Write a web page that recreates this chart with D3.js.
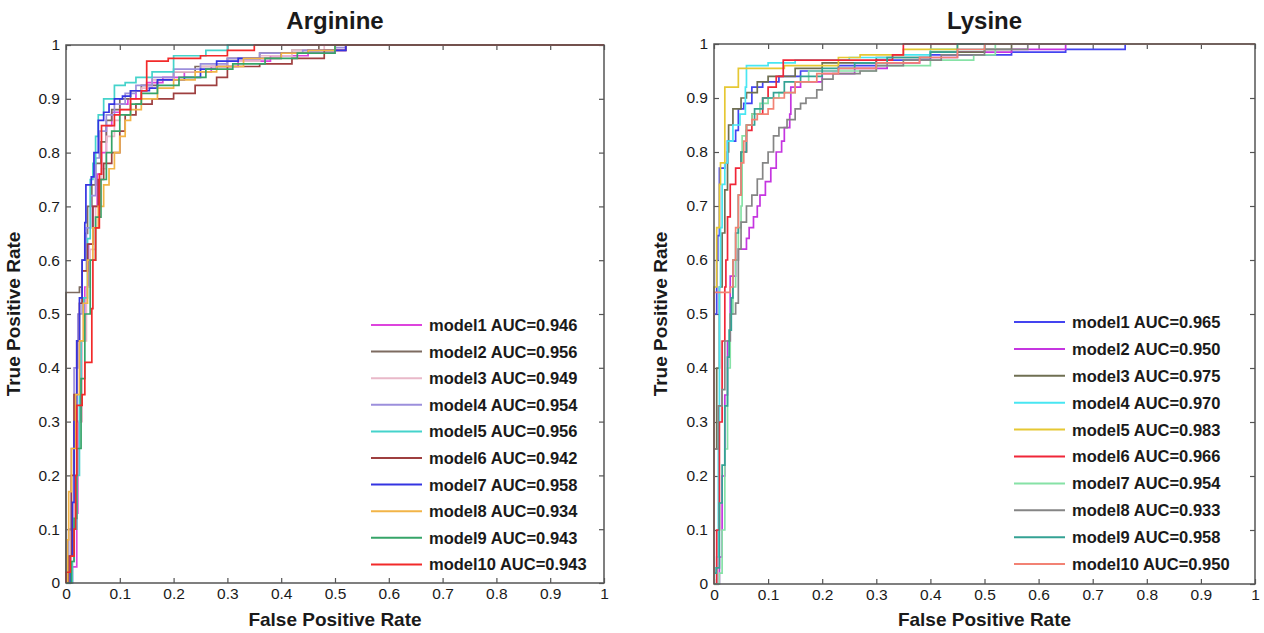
<!DOCTYPE html>
<html lang="en">
<head>
    <meta charset="UTF-8">
    <title>ROC curves</title>
    <script src="https://d3js.org/d3.v7.min.js"></script>
    <style>
        body { margin: 0; background: #fff; }
        text { font-family: "Liberation Sans", Arial, sans-serif; fill: #1a1a1a; }
        .title { font-size: 24px; font-weight: bold; text-anchor: middle; }
        .label { font-size: 19px; font-weight: bold; text-anchor: middle; }
        .legend text { font-size: 16.5px; font-weight: bold; }
        .roc { fill: none; stroke-width: 1.7; }
        .box { fill: none; stroke: #555; stroke-width: 1.5; }
    </style>
</head>
<body>
<script>
    const width = 1264;
    const height = 633;

    const ticks = [0, 0.1, 0.2, 0.3, 0.4, 0.5, 0.6, 0.7, 0.8, 0.9, 1];
    const modelNames = ["model1", "model2", "model3", "model4", "model5",
                        "model6", "model7", "model8", "model9", "model10"];

    // Arginine
    const arginineAUC = [0.946, 0.956, 0.949, 0.954, 0.956, 0.942, 0.958, 0.934, 0.943, 0.943];
    const arginineColors = ["#dd44dd", "#7d6b60", "#e9b9c9", "#9c8fdc", "#45d3cb",
                            "#9e3f3f", "#3434e2", "#f2b447", "#36a468", "#f22a2a"];
    const arginineROC = [
        [[0,0],[0.012,0.03],[0.02,0.13],[0.022,0.3],[0.028,0.45],[0.035,0.55],[0.042,0.63],[0.05,0.7],[0.058,0.76],[0.066,0.8],[0.075,0.85],[0.085,0.875],[0.1,0.89],[0.115,0.9],[0.13,0.915],[0.15,0.93],[0.18,0.94],[0.22,0.95],[0.27,0.96],[0.32,0.97],[0.38,0.98],[0.45,0.985],[0.5,0.99],[0.52,1],[1,1]],
        [[0,0],[0,0.38],[0,0.54],[0.025,0.55],[0.03,0.6],[0.035,0.65],[0.04,0.7],[0.048,0.74],[0.055,0.78],[0.065,0.82],[0.075,0.86],[0.085,0.88],[0.1,0.9],[0.12,0.915],[0.14,0.925],[0.17,0.935],[0.2,0.95],[0.24,0.96],[0.3,0.975],[0.36,0.985],[0.42,0.99],[0.47,1],[1,1]],
        [[0,0],[0.01,0.05],[0.015,0.15],[0.02,0.3],[0.03,0.45],[0.038,0.55],[0.045,0.62],[0.055,0.7],[0.065,0.77],[0.075,0.83],[0.09,0.86],[0.1,0.88],[0.12,0.9],[0.14,0.92],[0.16,0.935],[0.2,0.95],[0.25,0.96],[0.3,0.97],[0.36,0.98],[0.42,0.99],[0.48,1],[1,1]],
        [[0,0],[0.005,0.1],[0.01,0.25],[0.015,0.4],[0.022,0.5],[0.03,0.58],[0.038,0.66],[0.046,0.72],[0.055,0.79],[0.062,0.84],[0.075,0.87],[0.09,0.89],[0.11,0.91],[0.13,0.925],[0.16,0.94],[0.2,0.955],[0.25,0.965],[0.3,0.975],[0.36,0.985],[0.44,0.99],[0.5,0.995],[0.52,1],[1,1]],
        [[0,0],[0.012,0.04],[0.015,0.1],[0.02,0.2],[0.025,0.35],[0.028,0.45],[0.033,0.53],[0.04,0.64],[0.045,0.75],[0.05,0.78],[0.055,0.83],[0.06,0.87],[0.07,0.9],[0.09,0.925],[0.11,0.93],[0.13,0.94],[0.16,0.95],[0.2,0.98],[0.26,0.99],[0.3,1],[1,1]],
        [[0,0],[0.005,0.05],[0.01,0.2],[0.015,0.35],[0.02,0.45],[0.025,0.52],[0.03,0.58],[0.04,0.63],[0.05,0.7],[0.06,0.75],[0.07,0.78],[0.085,0.8],[0.1,0.84],[0.11,0.87],[0.13,0.89],[0.16,0.9],[0.2,0.91],[0.24,0.925],[0.28,0.94],[0.3,0.96],[0.36,0.965],[0.42,0.975],[0.48,0.99],[0.52,1],[1,1]],
        [[0,0],[0.008,0.05],[0.012,0.15],[0.015,0.3],[0.02,0.45],[0.025,0.53],[0.03,0.6],[0.035,0.67],[0.037,0.74],[0.047,0.755],[0.052,0.8],[0.06,0.86],[0.07,0.875],[0.08,0.89],[0.09,0.9],[0.105,0.905],[0.12,0.915],[0.155,0.92],[0.17,0.935],[0.22,0.94],[0.25,0.955],[0.28,0.97],[0.32,0.975],[0.4,0.985],[0.45,0.99],[0.52,1],[1,1]],
        [[0,0],[0.003,0.08],[0.005,0.17],[0.01,0.25],[0.018,0.35],[0.025,0.45],[0.032,0.52],[0.04,0.6],[0.05,0.66],[0.06,0.7],[0.07,0.74],[0.08,0.77],[0.09,0.8],[0.1,0.83],[0.11,0.86],[0.12,0.88],[0.14,0.9],[0.17,0.92],[0.2,0.935],[0.24,0.95],[0.28,0.96],[0.33,0.975],[0.4,0.985],[0.45,0.99],[0.5,1],[1,1]],
        [[0,0],[0.01,0.04],[0.015,0.12],[0.02,0.25],[0.028,0.38],[0.035,0.5],[0.045,0.6],[0.055,0.68],[0.065,0.75],[0.075,0.8],[0.085,0.84],[0.1,0.87],[0.12,0.89],[0.14,0.91],[0.17,0.925],[0.21,0.94],[0.26,0.955],[0.31,0.965],[0.37,0.975],[0.43,0.985],[0.5,1],[1,1]],
        [[0,0],[0,0.02],[0.008,0.05],[0.015,0.1],[0.018,0.2],[0.02,0.33],[0.03,0.35],[0.035,0.41],[0.048,0.51],[0.05,0.6],[0.055,0.66],[0.062,0.76],[0.066,0.85],[0.09,0.87],[0.1,0.88],[0.12,0.9],[0.14,0.915],[0.15,0.97],[0.19,0.975],[0.25,0.98],[0.3,0.99],[0.35,1],[1,1]]
    ];

    // Lysine
    const lysineAUC = [0.965, 0.950, 0.975, 0.970, 0.983, 0.966, 0.954, 0.933, 0.958, 0.950];
    const lysineColors = ["#4444f0", "#c535e0", "#6f6f52", "#48e6f2", "#e6c833",
                          "#f02638", "#86e2a6", "#858585", "#34a294", "#f28274"];
    const lysineROC = [
        [[0,0],[0,0.5],[0.005,0.6],[0.007,0.645],[0.01,0.77],[0.02,0.78],[0.025,0.82],[0.04,0.84],[0.045,0.88],[0.055,0.89],[0.07,0.92],[0.09,0.93],[0.12,0.94],[0.16,0.95],[0.23,0.96],[0.3,0.97],[0.4,0.98],[0.55,0.985],[0.65,0.99],[0.76,1],[1,1]],
        [[0,0],[0.01,0.05],[0.015,0.2],[0.02,0.35],[0.025,0.45],[0.03,0.49],[0.03,0.57],[0.04,0.6],[0.045,0.62],[0.06,0.64],[0.065,0.66],[0.073,0.68],[0.08,0.7],[0.085,0.72],[0.095,0.745],[0.105,0.77],[0.115,0.8],[0.125,0.82],[0.13,0.845],[0.14,0.87],[0.142,0.92],[0.16,0.93],[0.2,0.945],[0.26,0.955],[0.32,0.965],[0.38,0.975],[0.45,0.985],[0.55,0.99],[0.65,1],[1,1]],
        [[0,0],[0,0.25],[0.005,0.4],[0.01,0.55],[0.015,0.65],[0.02,0.73],[0.025,0.8],[0.027,0.85],[0.035,0.88],[0.05,0.9],[0.06,0.91],[0.08,0.93],[0.1,0.94],[0.15,0.955],[0.2,0.965],[0.3,0.975],[0.4,0.985],[0.5,0.99],[0.55,1],[1,1]],
        [[0,0],[0.005,0.05],[0.008,0.3],[0.01,0.55],[0.012,0.66],[0.015,0.74],[0.02,0.78],[0.025,0.82],[0.035,0.85],[0.048,0.87],[0.058,0.92],[0.06,0.96],[0.1,0.965],[0.15,0.97],[0.25,0.975],[0.33,0.98],[0.4,0.99],[0.5,1],[1,1]],
        [[0,0],[0,0.55],[0.005,0.66],[0.01,0.74],[0.012,0.78],[0.02,0.92],[0.045,0.955],[0.13,0.96],[0.23,0.975],[0.27,0.98],[0.35,0.99],[0.45,1],[1,1]],
        [[0,0],[0.005,0.1],[0.01,0.3],[0.015,0.45],[0.02,0.55],[0.022,0.6],[0.025,0.68],[0.03,0.74],[0.04,0.77],[0.05,0.8],[0.06,0.84],[0.07,0.87],[0.09,0.9],[0.1,0.92],[0.115,0.94],[0.128,0.97],[0.33,0.98],[0.35,1],[1,1]],
        [[0,0],[0.01,0.02],[0.015,0.1],[0.02,0.25],[0.025,0.4],[0.03,0.5],[0.035,0.55],[0.04,0.6],[0.045,0.66],[0.05,0.7],[0.052,0.83],[0.06,0.85],[0.07,0.87],[0.085,0.89],[0.1,0.9],[0.12,0.91],[0.15,0.93],[0.175,0.95],[0.3,0.96],[0.4,0.97],[0.48,0.98],[0.52,1],[1,1]],
        [[0,0],[0,0.25],[0.008,0.33],[0.015,0.36],[0.02,0.45],[0.03,0.5],[0.04,0.52],[0.045,0.62],[0.05,0.67],[0.06,0.7],[0.07,0.72],[0.08,0.75],[0.09,0.78],[0.1,0.8],[0.11,0.83],[0.12,0.845],[0.135,0.86],[0.15,0.88],[0.16,0.89],[0.17,0.9],[0.19,0.915],[0.2,0.935],[0.22,0.945],[0.27,0.95],[0.3,0.96],[0.35,0.97],[0.42,0.98],[0.5,0.99],[0.58,1],[1,1]],
        [[0,0],[0,0.02],[0.004,0.03],[0.01,0.15],[0.015,0.22],[0.02,0.33],[0.025,0.42],[0.028,0.47],[0.032,0.53],[0.035,0.6],[0.04,0.65],[0.045,0.72],[0.05,0.8],[0.06,0.85],[0.075,0.88],[0.09,0.9],[0.11,0.91],[0.13,0.93],[0.16,0.94],[0.2,0.955],[0.26,0.965],[0.32,0.975],[0.4,0.985],[0.45,1],[1,1]],
        [[0,0],[0,0.54],[0.03,0.55],[0.035,0.6],[0.04,0.66],[0.045,0.72],[0.05,0.78],[0.055,0.82],[0.06,0.85],[0.07,0.86],[0.08,0.87],[0.1,0.88],[0.11,0.9],[0.13,0.91],[0.15,0.93],[0.19,0.945],[0.23,0.955],[0.3,0.965],[0.38,0.975],[0.45,0.99],[0.5,1],[1,1]]
    ];

    const panels = [
        {title: "Arginine", left: 66, right: 604, top: 45, bottom: 583,
         roc: arginineROC, auc: arginineAUC, colors: arginineColors,
         legendX: 371, legendY: 325, legendStep: 26.6, ylabelX: 20},
        {title: "Lysine", left: 714, right: 1255, top: 44, bottom: 584,
         roc: lysineROC, auc: lysineAUC, colors: lysineColors,
         legendX: 1014, legendY: 322, legendStep: 26.9, ylabelX: 667}
    ];

    const svg = d3.select("body").append("svg")
        .attr("width", width).attr("height", height);

    panels.forEach(p => drawPanel(svg.append("g"), p));

    function drawPanel(g, p) {
        const x = d3.scaleLinear().domain([0, 1]).range([p.left, p.right]);
        const y = d3.scaleLinear().domain([0, 1]).range([p.bottom, p.top]);

        const fmt = d => d === 0 || d === 1 ? d3.format("d")(d) : d3.format(".1f")(d);

        // axes with inward ticks on all four sides
        const axes = [
            [d3.axisBottom(x).tickValues(ticks).tickFormat(fmt).tickPadding(5), p.bottom, "x"],
            [d3.axisTop(x).tickValues(ticks).tickFormat(""), p.top, "x"],
            [d3.axisLeft(y).tickValues(ticks).tickFormat(fmt).tickPadding(6), p.left, "y"],
            [d3.axisRight(y).tickValues(ticks).tickFormat(""), p.right, "y"]
        ];
        axes.forEach(([ax, pos, dir]) => {
            const a = g.append("g")
                .attr("transform", dir === "x" ? `translate(0,${pos})` : `translate(${pos},0)`)
                .call(ax.tickSizeInner(-5).tickSizeOuter(0));
            a.select(".domain").remove();
            a.selectAll("line").attr("stroke", "#555").attr("stroke-width", 1.2);
            a.selectAll("text")
                .attr("font-family", "'Liberation Sans', Arial, sans-serif")
                .attr("font-size", 15.5)
                .attr("fill", "#222");
        });

        const line = d3.line()
            .x(d => x(d[0]))
            .y(d => y(d[1]))
            .curve(d3.curveStepAfter);

        g.append("g").selectAll("path")
            .data(p.roc)
            .join("path")
            .attr("class", "roc")
            .attr("stroke", (d, i) => p.colors[i])
            .attr("d", line);

        g.append("rect")
            .attr("class", "box")
            .attr("x", p.left).attr("y", p.top)
            .attr("width", p.right - p.left).attr("height", p.bottom - p.top);

        g.append("text")
            .attr("class", "title")
            .attr("x", (p.left + p.right) / 2)
            .attr("y", 29)
            .text(p.title);

        g.append("text")
            .attr("class", "label")
            .attr("x", (p.left + p.right) / 2)
            .attr("y", 626)
            .text("False Positive Rate");

        g.append("text")
            .attr("class", "label")
            .attr("transform", `translate(${p.ylabelX},${(p.top + p.bottom) / 2}) rotate(-90)`)
            .text("True Positive Rate");

        // legend
        const leg = g.append("g").attr("class", "legend");
        const row = leg.selectAll("g")
            .data(modelNames)
            .join("g")
            .attr("transform", (d, i) => `translate(${p.legendX},${p.legendY + i * p.legendStep})`);
        row.append("line")
            .attr("x1", 0).attr("x2", 51)
            .attr("stroke", (d, i) => p.colors[i])
            .attr("stroke-width", 2);
        row.append("text")
            .attr("x", 58)
            .attr("dy", "0.36em")
            .text((d, i) => `${d} AUC=${d3.format(".3f")(p.auc[i])}`);
    }
</script>
</body>
</html>
